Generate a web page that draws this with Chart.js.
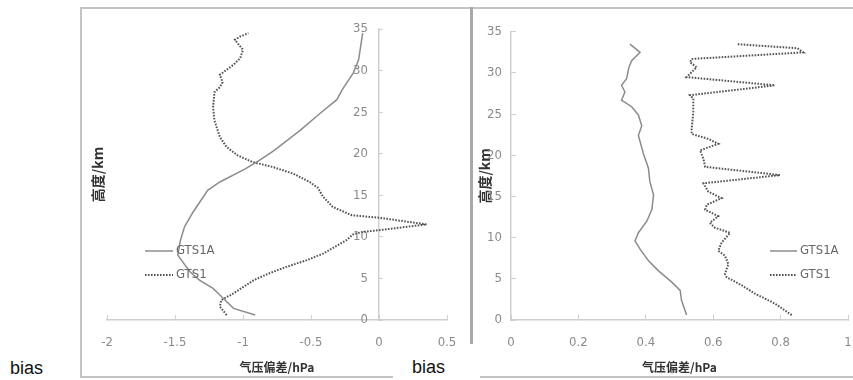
<!DOCTYPE html>
<html><head><meta charset="utf-8">
<script src="https://cdn.jsdelivr.net/npm/chart.js@4/dist/chart.umd.min.js"></script>
<style>
html,body{margin:0;padding:0;background:#fff;}
#wrap{position:relative;width:853px;height:380px;overflow:hidden;background:#fff;}
.ln{position:absolute;background:#c4c4c4;}
.bias{position:absolute;font-family:"Liberation Sans",Arial,sans-serif;font-size:18px;line-height:18px;color:#111;}
.box{position:absolute;}
</style></head><body>
<div id="wrap">
 <div class="ln" style="left:80px;top:7px;width:773px;height:2px"></div>
 <div class="ln" style="left:80px;top:7px;width:2px;height:371px"></div>
 <div class="ln" style="left:80px;top:376px;width:313px;height:2px"></div>
 <div class="ln" style="left:470px;top:7px;width:3px;height:337px;background:#a8a8a8"></div>
 <div class="ln" style="left:480px;top:376px;width:373px;height:2px"></div>
 <div class="bias" style="left:10px;top:359px">bias</div>
 <div class="bias" style="left:412px;top:358px">bias</div>
 <div class="box" style="left:82px;top:10px;width:388px;height:366px"><canvas id="c1"></canvas></div>
 <div class="box" style="left:474px;top:10px;width:379px;height:366px"><canvas id="c2"></canvas></div>
</div>
<script>
// ---- data (height km, pressure bias hPa) ----
const seriesNames = ['GTS1A', 'GTS1'];
const xTitle = '气压偏差/hPa';
const yTitle = '高度/km';

const leftA_height = [0.6,1.4,3.0,3.8,4.8,5.8,7.8,9.6,11.2,12.9,15.6,16.6,18.2,19.2,20.4,22.8,24.9,26.5,27.7,29.7,31.3,34.5];
const leftA_bias   = [-0.91,-1.07,-1.17,-1.22,-1.32,-1.39,-1.48,-1.46,-1.43,-1.37,-1.26,-1.17,-0.98,-0.88,-0.77,-0.58,-0.43,-0.31,-0.27,-0.19,-0.15,-0.12];

const leftB_height = [0.6,1.6,2.4,3.2,4.8,5.6,6.4,7.2,8.0,9.6,10.3,10.6,10.8,11.5,12.3,12.6,13.6,14.8,15.9,16.6,17.6,18.4,19.0,19.8,20.8,22.0,24.0,25.6,27.4,28.0,28.6,29.5,30.1,30.7,31.5,32.5,33.7,34.1,34.5];
const leftB_bias   = [-1.12,-1.17,-1.16,-1.07,-0.92,-0.81,-0.68,-0.53,-0.41,-0.24,-0.19,-0.12,0.0,0.35,0.0,-0.2,-0.34,-0.41,-0.45,-0.51,-0.63,-0.78,-0.93,-1.04,-1.12,-1.17,-1.21,-1.22,-1.21,-1.17,-1.15,-1.17,-1.12,-1.07,-1.02,-1.00,-1.06,-1.02,-0.96];

const rightA_height = [0.6,2.4,3.6,4.6,6.0,7.2,8.6,9.6,10.6,12.0,13.4,15.2,16.8,18.4,20.2,22.4,23.6,24.9,25.9,26.7,27.7,28.5,29.3,30.7,31.5,32.5,33.5];
const rightA_bias   = [0.521,0.506,0.502,0.477,0.437,0.408,0.383,0.368,0.378,0.403,0.418,0.423,0.412,0.408,0.393,0.378,0.388,0.378,0.358,0.328,0.338,0.328,0.343,0.350,0.358,0.383,0.353];

const rightB_height = [0.6,2.0,3.2,4.2,5.2,5.6,6.8,7.8,8.4,9.4,10.6,11.2,11.8,12.6,13.4,14.0,14.8,15.6,16.6,17.6,18.6,19.6,20.6,21.4,22.0,22.6,23.2,25.3,26.9,27.3,28.5,29.5,30.7,31.3,31.7,32.5,33.0,33.5];
const rightB_bias   = [0.833,0.783,0.724,0.685,0.640,0.635,0.645,0.635,0.615,0.625,0.650,0.605,0.590,0.615,0.576,0.581,0.625,0.585,0.571,0.798,0.576,0.571,0.561,0.615,0.585,0.536,0.536,0.541,0.541,0.531,0.783,0.521,0.551,0.531,0.536,0.867,0.850,0.670];

const leftXTicks = [-2, 0.5, 0.5];   // min, max, step
const rightXTicks = [0, 1, 0.2];
const yTicks = [0, 35, 5];

function pairs(xs, ys){ return xs.map((x,i)=>({x:x, y:ys[i]})); }
function fmt(v){ return String(parseFloat(Number(v).toFixed(2))); }

const tickFont = {family:"'Liberation Sans Narrow','DejaVu Sans Condensed',sans-serif", size:13};
const tickColor = '#8a8a8a';
const axisColor = '#cfcfcf';
const titleFontX = {family:"'Noto Sans CJK SC',sans-serif", size:12, weight:'bold'};
const titleFontY = {family:"'Noto Sans CJK SC',sans-serif", size:14, weight:'bold'};

const legendPlugin = {
  id:'boxLegend',
  afterDraw(chart, args, opts){
    const ctx = chart.ctx;
    chart.data.datasets.forEach((ds,i)=>{
      const y = opts.y + i*opts.gap;
      ctx.save();
      ctx.strokeStyle = ds.borderColor; ctx.lineWidth = ds.borderWidth;
      ctx.setLineDash(ds.borderDash||[]);
      ctx.beginPath(); ctx.moveTo(opts.x, y); ctx.lineTo(opts.x+opts.len, y); ctx.stroke();
      ctx.setLineDash([]);
      ctx.fillStyle = '#666'; ctx.font = "13px 'Liberation Sans Narrow','DejaVu Sans Condensed',sans-serif";
      ctx.textBaseline = 'middle';
      ctx.fillText(ds.label, opts.x+opts.len+3, y);
      ctx.restore();
    });
  }
};

function datasets(ax, ay, bx, by){
  return [
    {label:seriesNames[0], data:pairs(ax, ay), showLine:true, borderColor:'#8c8c8c', borderWidth:1.5, pointRadius:0, tension:0},
    {label:seriesNames[1], data:pairs(bx, by), showLine:true, borderColor:'#555', borderWidth:2, borderDash:[1.6,1.4], pointRadius:0, tension:0}
  ];
}

function gridOpts(){ return {display:true, drawOnChartArea:false, drawTicks:true, tickLength:-5, color:axisColor, lineWidth:1}; }
function fitX(s){ s.height = 56; s.paddingLeft = 0; s.paddingRight = 0; }

new Chart(document.getElementById('c1'), {
  type:'scatter',
  data:{datasets:datasets(leftA_bias, leftA_height, leftB_bias, leftB_height)},
  options:{
    responsive:true, maintainAspectRatio:false, animation:false,
    layout:{autoPadding:false, padding:{top:19, right:23, left:0, bottom:0}},
    plugins:{legend:{display:false}, tooltip:{enabled:false}, boxLegend:{x:63, y:241, gap:24, len:28}},
    scales:{
      x:{type:'linear', position:'bottom', min:leftXTicks[0], max:leftXTicks[1],
         ticks:{stepSize:leftXTicks[2], color:tickColor, font:tickFont, padding:20, callback:(v)=>fmt(v)},
         grid:gridOpts(), border:{color:axisColor, width:1.5},
         title:{display:true, text:xTitle, font:titleFontX, color:'#333', padding:{top:0,bottom:1}},
         afterFit:fitX},
      y:{type:'linear', position:{x:0}, min:yTicks[0], max:yTicks[1],
         ticks:{stepSize:yTicks[2], color:tickColor, font:tickFont, padding:0, callback:(v)=>fmt(v)+'   '},
         grid:gridOpts(), border:{color:axisColor, width:1.5}},
      y2:{type:'linear', axis:'y', position:'left', min:yTicks[0], max:yTicks[1],
         ticks:{display:false}, grid:{display:false}, border:{display:false},
         title:{display:true, text:yTitle, font:titleFontY, color:'#333', padding:{top:7,bottom:0}},
         afterFit(s){ s.width = 25; }}
    }
  },
  plugins:[legendPlugin]
});

new Chart(document.getElementById('c2'), {
  type:'scatter',
  data:{datasets:datasets(rightA_bias, rightA_height, rightB_bias, rightB_height)},
  options:{
    responsive:true, maintainAspectRatio:false, animation:false,
    layout:{autoPadding:false, padding:{top:19, right:5, left:0, bottom:0}},
    plugins:{legend:{display:false}, tooltip:{enabled:false}, boxLegend:{x:296, y:241, gap:24, len:27}},
    scales:{
      x:{type:'linear', position:'bottom', min:rightXTicks[0], max:rightXTicks[1],
         ticks:{stepSize:rightXTicks[2], color:tickColor, font:tickFont, padding:20, callback:(v)=>fmt(v)},
         grid:gridOpts(), border:{color:axisColor, width:1.5},
         title:{display:true, text:xTitle, font:titleFontX, color:'#333', padding:{top:0,bottom:1}},
         afterFit:fitX},
      y:{type:'linear', position:'left', min:yTicks[0], max:yTicks[1],
         ticks:{stepSize:yTicks[2], color:tickColor, font:tickFont, padding:14, callback:(v)=>fmt(v)},
         grid:gridOpts(), border:{color:axisColor, width:1.5},
         title:{display:true, text:yTitle, font:titleFontY, color:'#333', padding:{top:2,bottom:0}},
         afterFit(s){ s.width = 37; }}
    }
  },
  plugins:[legendPlugin]
});
</script>
</body></html>
